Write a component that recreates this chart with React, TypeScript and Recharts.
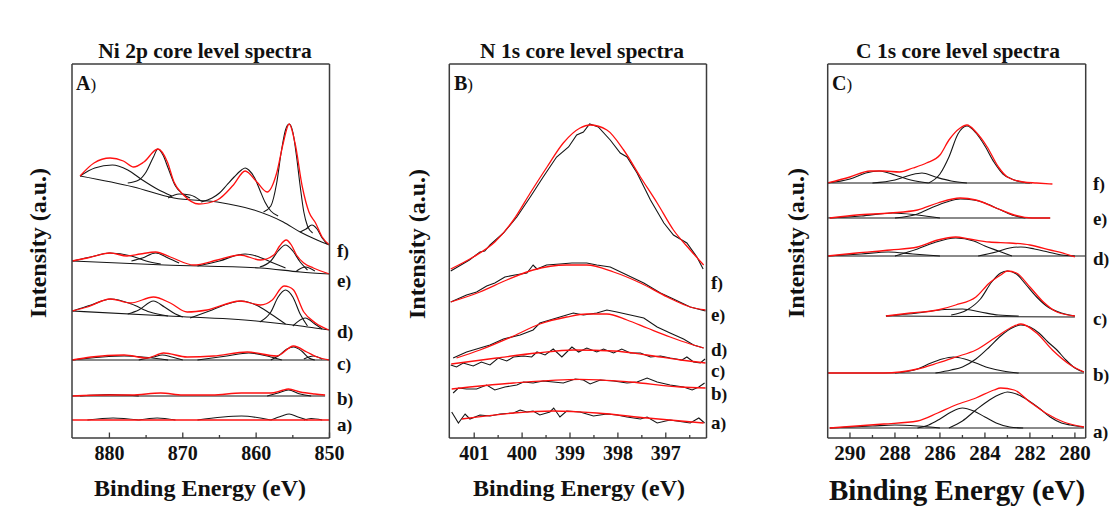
import React from 'react'
import { LineChart, Line, XAxis, YAxis, ReferenceLine } from 'recharts'

type Pt = [number, number] // [binding energy (eV), intensity (a.u., offset)]

// ---------- Ni 2p ----------
const niF_env: Pt[] = [[884, 262], [882.1, 275], [879.9, 280], [878.1, 277], [876.7, 271], [875.3, 276], [873.4, 289], [872.1, 276], [871.2, 256], [869.9, 243], [867.8, 234], [865.3, 238], [863.1, 253], [861.5, 267], [859.9, 256], [858.5, 246], [857.2, 265], [856.3, 295], [855.5, 314], [854.7, 295], [853.7, 251], [852.8, 226], [851.9, 215], [851, 201], [850, 193]]
const niF_bg: Pt[] = [[884, 262], [876.7, 251], [871.2, 240], [865.3, 236], [860.3, 228], [856.3, 216], [854, 206], [851.7, 198], [850, 193]]
const niF_c1: Pt[] = [[884, 262], [882, 270], [879.6, 273], [877.5, 268], [875.5, 258], [873.5, 249], [871.5, 242]]
const niF_c2: Pt[] = [[877.5, 255], [876, 258], [875, 266], [874, 281], [873.4, 289], [872.7, 283], [872, 270], [871, 252], [870, 244], [869, 240]]
const niF_c3: Pt[] = [[872, 240], [870.5, 244], [869, 243], [867.5, 237]]
const niF_c4: Pt[] = [[867.5, 236], [866, 240], [865, 245], [864, 253], [863, 261], [862, 268], [861.5, 270], [861, 268], [860.2, 260], [859.5, 248], [858.8, 236], [858, 227], [857, 222]]
const niF_c5: Pt[] = [[859, 226], [858, 232], [857.2, 255], [856.6, 285], [856, 308], [855.5, 314], [855, 306], [854.5, 282], [854, 252], [853.5, 226], [853, 212], [852.3, 205]]
const niF_c6: Pt[] = [[854, 206], [853.2, 209], [852.4, 213], [851.7, 209], [851, 200], [850.3, 194]]

const niE_env: Pt[] = [[885.1, 177], [883, 180], [879.9, 185], [877.6, 182], [875.8, 184], [873.7, 186], [871.7, 181], [868.5, 173], [865.3, 178], [862.2, 183], [859.4, 178], [857.6, 183], [856.8, 192], [855.9, 198], [855.2, 193], [854.5, 183], [853.5, 175], [852.2, 170], [850, 164]]
const niE_bg: Pt[] = [[885.1, 177], [872.5, 173], [859.4, 170], [854, 166], [850, 164]]
const niE_c1: Pt[] = [[885, 177], [882, 182], [880, 185], [877, 182], [875, 177], [873, 174]]
const niE_c2: Pt[] = [[877, 177], [875.5, 180], [873.7, 185], [872, 180], [870.5, 175]]
const niE_c3: Pt[] = [[868, 172], [865, 177], [862.5, 183], [861.5, 184], [860, 182], [858, 176], [856, 170]]
const niE_c4: Pt[] = [[859.5, 171], [858, 177], [857, 187], [856, 193], [855, 187], [854, 176], [853, 168]]
const niE_c5: Pt[] = [[854.5, 167], [853.3, 171], [852, 167]]

const niD_env: Pt[] = [[885.1, 127], [883, 131], [879.9, 139], [877.1, 135], [874, 141], [871.7, 135], [869.4, 126], [866.7, 128], [862.2, 137], [859.4, 133], [857.8, 138], [856.2, 152], [855.5, 151], [854.9, 148], [853.5, 126], [851.9, 115], [850.1, 108]]
const niD_bg: Pt[] = [[885.1, 127], [872, 122], [860, 117], [855, 113], [852, 110], [850, 108]]
const niD_c1: Pt[] = [[885, 127], [882.5, 133], [879.8, 139], [877, 134], [874.5, 126], [872, 122]]
const niD_c2: Pt[] = [[877.5, 124], [876, 128], [874, 137], [872.5, 131], [871, 124], [870, 121]]
const niD_c3: Pt[] = [[869, 120], [866, 128], [863.5, 135], [862, 137], [860, 133], [858, 124], [856, 114]]
const niD_c4: Pt[] = [[859.5, 116], [858, 126], [857, 141], [856, 148], [855, 141], [854, 124], [853, 112]]
const niD_c5: Pt[] = [[855, 112], [853.3, 120], [852, 114], [851, 109]]

const niC_env: Pt[] = [[885.1, 78], [882.5, 81], [878, 83], [874.9, 80], [872.6, 85], [869.4, 81], [865.8, 82], [861.2, 86], [857.2, 82], [854.9, 92], [853.1, 86], [851.7, 81], [850, 78]]
const niC_bg: Pt[] = [[885.1, 78], [850, 78]]
const niC_c1: Pt[] = [[885, 78], [878, 82], [872, 78]]
const niC_c2: Pt[] = [[876, 78], [874, 81], [872.8, 83], [871.5, 81], [870, 78]]
const niC_c3: Pt[] = [[868, 78], [864, 82], [861, 85], [858, 81], [856.5, 78]]
const niC_c4: Pt[] = [[858, 78], [857, 82], [855.8, 89], [854.9, 91], [853.8, 87], [852.8, 80], [852, 78]]
const niC_c5: Pt[] = [[853.5, 79], [852.2, 82], [851, 79]]

const niB_env: Pt[] = [[885.1, 42], [880, 43], [877, 43], [873, 45], [870, 43], [866, 43], [862, 45], [858, 45], [856.5, 47.5], [855.6, 49], [854, 46], [852, 44], [850.6, 43]]
const niB_bg: Pt[] = [[885.1, 42], [850.6, 42]]
const niB_c1: Pt[] = [[884, 42], [880, 43.5], [876, 42]]
const niB_c2: Pt[] = [[858.5, 42], [857, 45], [855.6, 48], [854, 44], [852.5, 42]]

const niA_env: Pt[] = [[885.1, 18], [850, 18]]
const niA_c1: Pt[] = [[883, 18], [879.5, 20], [876, 18]]
const niA_c2: Pt[] = [[876, 18], [873.5, 20], [871, 18]]
const niA_c3: Pt[] = [[868, 18], [862, 22], [858, 18]]
const niA_c4: Pt[] = [[858, 18], [856.5, 22], [855.5, 24], [854.3, 21], [853, 18]]
const niA_c5: Pt[] = [[853.5, 18], [852.5, 19.5], [851, 18]]

// ---------- N 1s ----------
const nF_fit: Pt[] = [[401.49, 169], [401.02, 181], [400.57, 196], [400.18, 218], [399.83, 245], [399.48, 271], [399.14, 295], [398.79, 310], [398.58, 313], [398.23, 308], [397.88, 288], [397.53, 261], [397.18, 235], [396.84, 208], [396.49, 188], [396.21, 173]]
const nF_raw: Pt[] = [[401.49, 167], [401.1, 178], [400.88, 186], [400.78, 187], [400.67, 193], [400.39, 205], [400.11, 221], [399.83, 241], [399.56, 261], [399.28, 281], [399.03, 291], [398.86, 303], [398.72, 306], [398.59, 314], [398.41, 311], [398.16, 298], [397.95, 285], [397.81, 281], [397.6, 265], [397.32, 238], [397.04, 215], [396.84, 203], [396.56, 195], [396.35, 181], [396.22, 169]]
const nE_fit: Pt[] = [[401.49, 136], [400.88, 146], [400.32, 158], [399.77, 168], [399.07, 173], [398.65, 173], [398.09, 166], [397.53, 155], [396.97, 141], [396.49, 131], [396.17, 128]]
const nE_raw: Pt[] = [[401.49, 136], [401.16, 143], [400.95, 146], [400.74, 152], [400.57, 155], [400.36, 161], [400.15, 163], [399.9, 165], [399.77, 173], [399.69, 169], [399.49, 173], [399.21, 174], [398.96, 175], [398.65, 175], [398.44, 173], [398.16, 171], [397.81, 163], [397.46, 155], [397.11, 145], [396.84, 139], [396.49, 131], [396.17, 127]]
const nD_fit: Pt[] = [[401.37, 80], [400.88, 88], [400.18, 102], [399.63, 114], [399.07, 121], [398.65, 124], [398.23, 124], [397.81, 118], [397.39, 110], [396.91, 101], [396.49, 94], [396.21, 90]]
const nD_raw: Pt[] = [[401.44, 80], [401.16, 86], [400.95, 89], [400.67, 93], [400.39, 99], [400.04, 103], [399.77, 108], [399.63, 115], [399.42, 118], [399.21, 121], [398.93, 125], [398.72, 123], [398.44, 125], [398.23, 128], [398.02, 126], [397.74, 123], [397.46, 120], [397.18, 111], [396.91, 105], [396.63, 99], [396.42, 93], [396.21, 90]]
const nC_fit: Pt[] = [[401.48, 74], [400.53, 80], [399.69, 85], [398.93, 88], [398.09, 87], [397.39, 83], [396.7, 78], [396.17, 75]]
const nC_raw: Pt[] = [[401.49, 73], [401.37, 71], [401.23, 75], [401.02, 72], [400.85, 76], [400.67, 73], [400.5, 80], [400.32, 77], [400.18, 81], [399.97, 82], [399.8, 81], [399.69, 86], [399.52, 83], [399.35, 89], [399.17, 81], [398.96, 91], [398.82, 86], [398.65, 90], [398.44, 86], [398.3, 89], [398.09, 85], [397.92, 89], [397.74, 85], [397.53, 85], [397.32, 81], [397.11, 82], [396.91, 80], [396.66, 78], [396.56, 81], [396.42, 76], [396.28, 75], [396.18, 79]]
const nB_fit: Pt[] = [[401.47, 49], [400.18, 55], [398.79, 58.7], [397.74, 56], [396.7, 51], [396.17, 50]]
const nB_raw: Pt[] = [[401.44, 45], [401.33, 50], [401.16, 49], [400.95, 49], [400.74, 53], [400.57, 48], [400.36, 51], [400.11, 53], [399.97, 56], [399.77, 55], [399.56, 57], [399.35, 56], [399.14, 55], [398.89, 59], [398.72, 58], [398.58, 54], [398.37, 58], [398.09, 57], [397.81, 55], [397.6, 56], [397.39, 60], [397.18, 56], [396.91, 53], [396.63, 51], [396.45, 48], [396.31, 51], [396.19, 55]]
const nA_fit: Pt[] = [[401.26, 19], [400.18, 25], [399.35, 27], [398.44, 25], [397.39, 20], [396.21, 15]]
const nA_raw: Pt[] = [[401.47, 26], [401.33, 15], [401.19, 24], [401.09, 19], [400.88, 23], [400.67, 22], [400.46, 24], [400.18, 25], [400.04, 28], [399.9, 26], [399.77, 27], [399.63, 23], [399.42, 26], [399.34, 30], [399.21, 21], [399.07, 27], [398.79, 26], [398.51, 22], [398.23, 24], [398.02, 23], [397.81, 21], [397.53, 19], [397.39, 21], [397.18, 15], [396.91, 18], [396.63, 16], [396.49, 15], [396.31, 20], [396.19, 15]]

// ---------- C 1s ----------
const cF_env: Pt[] = [[291, 255], [290, 261], [289.1, 267], [288.5, 267], [287.8, 266], [287.2, 270], [286.6, 275], [286, 283], [285.6, 298], [285.1, 310], [284.8, 313], [284.4, 306], [283.9, 291], [283.4, 271], [283, 261], [282.3, 256], [281.7, 255], [281, 254]]
const cF_bg: Pt[] = [[291, 255], [281.9, 255]]
const cF_c1: Pt[] = [[291, 255], [290, 259], [289.3, 265], [288.7, 267], [288, 263], [287.3, 258], [286.5, 255]]
const cF_c2: Pt[] = [[289, 255], [288, 258], [287.3, 263], [286.8, 265], [286.2, 261], [285.5, 257], [284.8, 255]]
const cF_c3: Pt[] = [[286.5, 255], [286, 264], [285.6, 281], [285.2, 304], [284.8, 312], [284.4, 305], [284, 292], [283.6, 276], [283.2, 264], [282.7, 258], [282, 255]]

const cE_env: Pt[] = [[290.9, 220], [289.7, 223], [288.2, 225], [287, 228], [286.1, 235], [285.1, 240], [284.4, 238], [283.5, 230], [282.7, 223], [281.9, 220], [281.1, 220]]
const cE_bg: Pt[] = [[290.9, 220], [281.1, 220]]
const cE_c1: Pt[] = [[291, 220], [289.5, 222], [288.1, 225], [287, 223], [286, 220]]
const cE_c2: Pt[] = [[288, 220], [287, 224], [286.3, 231], [285.7, 236], [285.1, 239], [284.5, 238], [284, 235], [283.4, 229], [282.8, 223], [282.2, 220]]

const cD_env: Pt[] = [[291, 182], [289.7, 185], [288.2, 188], [287, 191], [286.1, 198], [285.3, 201], [284.7, 199], [283.8, 196], [282.9, 195], [282, 193], [281.1, 188], [280.4, 184], [280, 181]]
const cD_bg: Pt[] = [[291, 182], [279.52, 182]]
const cD_c1: Pt[] = [[291, 182], [289.5, 184], [288.3, 186], [287.2, 184], [286, 182]]
const cD_c2: Pt[] = [[288, 182], [287, 189], [286.3, 195], [285.3, 200], [284.5, 197], [284, 192], [283.4, 187], [282.8, 182]]
const cD_c3: Pt[] = [[284.3, 182], [283.5, 186], [282.9, 190], [282.4, 191], [281.8, 189], [281.2, 186], [280.6, 183], [280, 182]]

const cC_env: Pt[] = [[288.4, 122], [287.3, 125], [286.1, 128], [285.3, 133], [284.4, 141], [283.8, 155], [283.3, 163], [283, 167], [282.6, 165], [282, 151], [281.4, 136], [280.8, 126], [280, 122]]
const cC_bg: Pt[] = [[288.4, 122], [280, 121]]
const cC_c1: Pt[] = [[288.4, 122], [287, 125], [285.8, 128.5], [285, 129], [284.2, 126], [283.4, 123], [282.5, 122]]
const cC_c2: Pt[] = [[285.5, 123], [284.8, 128], [284.2, 139], [283.7, 156], [283.3, 165], [283, 167], [282.6, 164], [282.2, 154], [281.7, 141], [281.2, 131], [280.6, 125], [280, 122]]

const cB_env: Pt[] = [[291, 65], [288.5, 65], [287, 69], [286.1, 75], [285.3, 81], [284.4, 88], [283.5, 101], [282.7, 112], [282.4, 114], [281.7, 105], [281, 88], [280.2, 73], [279.6, 66]]
const cB_bg: Pt[] = [[291, 65], [279.6, 65]]
const cB_c1: Pt[] = [[288, 65], [287, 69], [286.4, 75], [285.9, 79], [285.4, 81], [284.9, 79], [284.4, 75], [283.8, 70], [283.2, 67], [282.5, 65]]
const cB_c2: Pt[] = [[286.2, 65], [285.5, 68], [285, 71], [284.4, 79], [283.8, 91], [283.3, 102], [282.8, 110], [282.4, 113], [282, 111], [281.6, 105], [281.2, 96], [280.8, 88], [280.4, 78], [280, 70], [279.6, 66]]

const cA_env: Pt[] = [[290.9, 10], [288.5, 14], [287, 17], [286.1, 25], [285.3, 33], [284.4, 40], [283.6, 48], [283.3, 50], [282.7, 48], [282, 36], [281.3, 25], [280.5, 16], [279.6, 11]]
const cA_bg: Pt[] = [[290.9, 10], [279.6, 10]]
const cA_c1: Pt[] = [[290.9, 10], [289, 12], [288, 13], [287, 12], [286, 10]]
const cA_c2: Pt[] = [[287, 10], [286.5, 13], [286, 19], [285.5, 26], [285, 30], [284.5, 27], [284, 21], [283.5, 15], [282.9, 11], [282.3, 10]]
const cA_c3: Pt[] = [[285.6, 10], [285, 17], [284.4, 28], [283.8, 38], [283.3, 44], [283, 46], [282.5, 43], [282.1, 38], [281.6, 30], [281.1, 21], [280.6, 15], [280.2, 13], [279.6, 11]]

// ticks
const niMajor = [880, 870, 860, 850]
const niMinor = [875, 865, 855]
const nMajor = [401, 400, 399, 398, 397]
const nMinor = [400.5, 399.5, 398.5, 397.5, 396.5]
const cMajor = [290, 288, 286, 284, 282, 280]
const cMinor = [289, 287, 285, 283, 281]

const SERIF = '"Liberation Serif", "Times New Roman", serif'
const PLOT_TOP = 64
const PLOT_BOTTOM = 438
const V_MAX = PLOT_BOTTOM - PLOT_TOP
const AXIS_H = 30
const FRAME = '#3c3c3c'

const rows = (a: Pt[]) => a.map(([e, v]) => ({ e, v }))

interface PanelDef {
  left: number
  width: number
  plotLeft: number
  plotRight: number
  domain: [number, number]
  majors: number[]
  minors: number[]
  black: Pt[][]
  red: Pt[][]
  blackType: 'monotone' | 'linear'
  tickFont: number
}

function Panel({ def }: { def: PanelDef }) {
  const { left, width, plotLeft, plotRight, domain, majors, minors, black, red, blackType, tickFont } = def
  const renderTick = (props: any) => {
    const { x, payload } = props
    const major = majors.some((m) => Math.abs(m - payload.value) < 1e-6)
    return (
      <g>
        <line x1={x} x2={x} y1={PLOT_BOTTOM} y2={PLOT_BOTTOM - (major ? 5.5 : 3)} stroke={FRAME} strokeWidth={1.3} />
        {major && (
          <text x={x} y={460} textAnchor="middle" fontFamily={SERIF} fontWeight="bold" fontSize={tickFont} fill="#111">
            {payload.value}
          </text>
        )}
      </g>
    )
  }
  return (
    <div style={{ position: 'absolute', left, top: 0 }}>
      <LineChart
        width={width}
        height={518}
        margin={{ top: PLOT_TOP, bottom: 518 - PLOT_BOTTOM - AXIS_H, left: plotLeft - left, right: left + width - plotRight }}
      >
        <XAxis
          dataKey="e"
          type="number"
          domain={domain}
          reversed
          allowDataOverflow
          ticks={[...majors, ...minors].sort((a, b) => a - b)}
          interval={0}
          tick={renderTick}
          tickLine={false}
          axisLine={{ stroke: FRAME, strokeWidth: 1.5 }}
          height={AXIS_H}
        />
        <YAxis type="number" domain={[0, V_MAX]} hide allowDataOverflow />
        {black.map((d, i) => (
          <Line key={'k' + i} data={rows(d)} dataKey="v" type={blackType} stroke="#161616" strokeWidth={1.1} dot={false} activeDot={false} isAnimationActive={false} />
        ))}
        {red.map((d, i) => (
          <Line key={'r' + i} data={rows(d)} dataKey="v" type="monotone" stroke="#ff1010" strokeWidth={1.3} dot={false} activeDot={false} isAnimationActive={false} />
        ))}
        <ReferenceLine x={domain[0]} stroke={FRAME} strokeWidth={1.5} />
        <ReferenceLine x={domain[1]} stroke={FRAME} strokeWidth={1.5} />
        <ReferenceLine y={V_MAX} stroke={FRAME} strokeWidth={1.5} />
      </LineChart>
    </div>
  )
}

const panels: PanelDef[] = [
  {
    left: 0, width: 370, plotLeft: 72, plotRight: 329.5, domain: [850, 885.1], majors: niMajor, minors: niMinor, tickFont: 20, blackType: 'monotone',
    black: [niF_bg, niF_c1, niF_c2, niF_c3, niF_c4, niF_c5, niF_c6, niE_bg, niE_c1, niE_c2, niE_c3, niE_c4, niE_c5, niD_bg, niD_c1, niD_c2, niD_c3, niD_c4, niD_c5, niC_bg, niC_c1, niC_c2, niC_c3, niC_c4, niC_c5, niB_bg, niB_c1, niB_c2, niA_c1, niA_c2, niA_c3, niA_c4, niA_c5],
    red: [niF_env, niE_env, niD_env, niC_env, niB_env, niA_env],
  },
  {
    left: 380, width: 360, plotLeft: 449.3, plotRight: 706.5, domain: [396.15, 401.52], majors: nMajor, minors: nMinor, tickFont: 20, blackType: 'linear',
    black: [nF_raw, nE_raw, nD_raw, nC_raw, nB_raw, nA_raw],
    red: [nF_fit, nE_fit, nD_fit, nC_fit, nB_fit, nA_fit],
  },
  {
    left: 750, width: 363, plotLeft: 827.7, plotRight: 1085.7, domain: [279.52, 290.99], majors: cMajor, minors: cMinor, tickFont: 21, blackType: 'monotone',
    black: [cF_bg, cF_c1, cF_c2, cF_c3, cE_bg, cE_c1, cE_c2, cD_bg, cD_c1, cD_c2, cD_c3, cC_bg, cC_c1, cC_c2, cB_bg, cB_c1, cB_c2, cA_bg, cA_c1, cA_c2, cA_c3],
    red: [cF_env, cE_env, cD_env, cC_env, cB_env, cA_env],
  },
]

const titles = [
  { text: 'Ni 2p core level spectra', x: 205, y: 52 },
  { text: 'N 1s core level spectra', x: 582, y: 52 },
  { text: 'C 1s core level spectra', x: 958, y: 52 },
]
const xTitles = [
  { x: 200, y: 488, size: 24 },
  { x: 579, y: 488, size: 24 },
  { x: 957, y: 490, size: 29 },
]
const yTitles = [
  { x: 38, y: 243 },
  { x: 417, y: 244 },
  { x: 796, y: 243 },
]
const panelLetters = [
  { text: 'A', x: 76, y: 83 },
  { text: 'B', x: 454, y: 83 },
  { text: 'C', x: 832, y: 83 },
]
const seriesLetters = ['f', 'e', 'd', 'c', 'b', 'a']
const seriesLabelX = [337, 711, 1093]
const seriesLabelY = [
  [250, 280, 331, 363, 398, 424],
  [282, 314, 349, 369.5, 393, 422],
  [183, 218, 258, 318, 374, 431],
]

const abs = (x: number, y: number, center: boolean): React.CSSProperties => ({
  position: 'absolute',
  left: x,
  top: y,
  transform: center ? 'translate(-50%, -50%)' : 'translate(0, -50%)',
  whiteSpace: 'nowrap',
  lineHeight: 1,
  fontFamily: SERIF,
  fontWeight: 'bold',
  color: '#111',
})

export default function App() {
  return (
    <div style={{ position: 'absolute', left: 0, top: 0, width: 1113, height: 518, background: '#fff', overflow: 'hidden' }}>
      {panels.map((p, i) => (
        <Panel key={i} def={p} />
      ))}
      {titles.map((t) => (
        <div key={t.text} style={{ ...abs(t.x, t.y, true), fontSize: 21.5 }}>{t.text}</div>
      ))}
      {xTitles.map((t, i) => (
        <div key={'x' + i} style={{ ...abs(t.x, t.y, true), fontSize: t.size }}>Binding Energy (eV)</div>
      ))}
      {yTitles.map((t, i) => (
        <div key={'y' + i} style={{ ...abs(t.x, t.y, true), fontSize: 24, transform: 'translate(-50%, -50%) rotate(-90deg)' }}>
          Intensity (a.u.)
        </div>
      ))}
      {panelLetters.map((t) => (
        <div key={t.text} style={{ ...abs(t.x, t.y, false), fontSize: 20 }}>
          {t.text}
          <span style={{ fontWeight: 'normal', fontSize: 17 }}>)</span>
        </div>
      ))}
      {seriesLabelX.map((x, pi) =>
        seriesLetters.map((s, si) => (
          <div key={pi + s} style={{ ...abs(x, seriesLabelY[pi][si], false), fontSize: 19 }}>
            {s}
            <span style={{ fontSize: 17 }}>)</span>
          </div>
        ))
      )}
    </div>
  )
}
